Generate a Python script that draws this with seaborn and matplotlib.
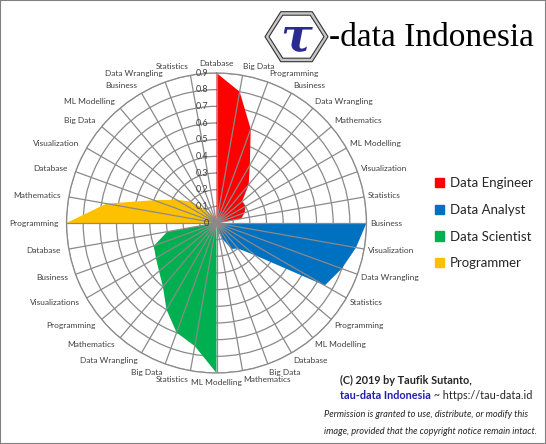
# radar chart of skills per data role (tau-data Indonesia style)
import matplotlib
matplotlib.use("Agg")
import matplotlib.pyplot as plt
import matplotlib.patches as mpatches
from matplotlib import font_manager
import seaborn as sns
import numpy as np
import pandas as pd

# categories, clockwise from the top, nine per role
engineer_cats = ["Database", "Big Data", "Programming", "Business", "Data Wrangling",
                 "Mathematics", "ML Modelling", "Visualization", "Statistics"]
analyst_cats = ["Business", "Visualization", "Data Wrangling", "Statistics", "Programming",
                "ML Modelling", "Database", "Big Data", "Mathematics"]
scientist_cats = ["ML Modelling", "Statistics", "Big Data", "Data Wrangling", "Mathematics",
                  "Programming", "Visualizations", "Business", "Database"]
programmer_cats = ["Programming", "Mathematics", "Database", "Visualization", "Big Data",
                   "ML Modelling", "Business", "Data Wrangling", "Statistics"]

# values
engineer_vals = [0.9, 0.8, 0.6, 0.4, 0.3, 0.2, 0.2, 0.18, 0.15]
analyst_vals = [0.9, 0.85, 0.8, 0.75, 0.3, 0.2, 0.18, 0.1, 0.05]
scientist_vals = [0.9, 0.75, 0.7, 0.6, 0.5, 0.45, 0.42, 0.4, 0.3]
programmer_vals = [0.9, 0.67, 0.4, 0.28, 0.2, 0.1, 0.05, 0.05, 0.03]

roles = ["Data Engineer", "Data Analyst", "Data Scientist", "Programmer"]
role_colors = ["#FF0000", "#0070C0", "#00B050", "#FFC000"]
r_ticks = [0, 0.1, 0.2, 0.3, 0.4, 0.5, 0.6, 0.7, 0.8, 0.9]

sns.set_theme(style="white")
names = {f.name for f in font_manager.fontManager.ttflist}
label_font = "Lato" if "Lato" in names else "DejaVu Sans"
plt.rcParams["font.family"] = [label_font, "DejaVu Sans"]

# one long table: every role has a value on every spoke (zero outside its own block)
all_cats = engineer_cats + analyst_cats + scientist_cats + programmer_cats
blocks = [engineer_vals, analyst_vals, scientist_vals, programmer_vals]
n = len(all_cats)
theta = np.arange(n) * 2 * np.pi / n
rows = []
for k, role in enumerate(roles):
    full = np.zeros(n)
    full[k * 9:(k + 1) * 9] = blocks[k]
    for i in range(n):
        rows.append((role, theta[i], all_cats[i], full[i]))
df = pd.DataFrame(rows, columns=["Role", "Theta", "Category", "Value"])
palette = dict(zip(roles, sns.color_palette(role_colors)))

W, H = 546, 444
fig = plt.figure(figsize=(W / 100, H / 100), dpi=100)
fig.patch.set_facecolor("white")

def fx(x):
    return x / W

def fy(y):
    return 1 - y / H

grid_col = "#8a8a8a"
cx, cy, rad = 216.5, 223, 150
ax = fig.add_axes([fx(cx - rad), fy(cy + rad), 2 * rad / W, 2 * rad / H], projection="polar")
ax.set_theta_zero_location("N")
ax.set_theta_direction(-1)
ax.set_ylim(0, 0.9)
ax.set_axisbelow(True)
ax.set_yticks(r_ticks[1:])
ax.set_yticklabels([])
ax.set_xticks(theta)
ax.set_xticklabels([])
ax.tick_params(length=0)
ax.xaxis.grid(False)
ax.yaxis.grid(True, color=grid_col, lw=0.9)
ax.spines["polar"].set_color(grid_col)
ax.spines["polar"].set_linewidth(0.9)
ax.set_facecolor("white")

for role in roles:
    sub = df[df["Role"] == role]
    ax.fill(sub["Theta"], sub["Value"], color=palette[role], lw=0, zorder=2)

# spokes drawn over the fills
ax.vlines(theta, 0, 0.9, color=grid_col, lw=0.9, zorder=3)

for ang, lab in zip(theta, all_cats):
    s, c = np.sin(ang), np.cos(ang)
    ha = "left" if s > 0.05 else ("right" if s < -0.05 else "center")
    dx = 4 * s if s > 0 else 8 * s
    ax.annotate(lab, xy=(ang, 0.9), xytext=(dx, 9 * c), textcoords="offset pixels",
                ha=ha, va="center", fontsize=6, color="#404040", annotation_clip=False)

for r in r_ticks:
    ax.annotate(f"{r:g}", xy=(0, r), xytext=(-8, 0), textcoords="offset pixels",
                ha="right", va="center", fontsize=6.5, color="#404040", zorder=4)

# legend
handles = [mpatches.Patch(color=palette[r], label=r) for r in roles]
fig.legend(handles=handles, loc="upper left", bbox_to_anchor=(fx(435), fy(177)),
           frameon=False, fontsize=9.5, handlelength=0.7, handleheight=0.7,
           handletextpad=0.4, labelspacing=1.12, borderpad=0, borderaxespad=0)

# logo
def hexagon(x0, y0, hw, hh, **kw):
    pts = [(x0 - hw, y0), (x0 - hw / 2, y0 - hh), (x0 + hw / 2, y0 - hh),
           (x0 + hw, y0), (x0 + hw / 2, y0 + hh), (x0 - hw / 2, y0 + hh)]
    return mpatches.Polygon([(fx(a), fy(b)) for a, b in pts], closed=True,
                            transform=fig.transFigure, **kw)

fig.patches.append(hexagon(296.5, 36.7, 31.5, 25, facecolor="#c8c8c8", edgecolor="#333333", lw=0.8))
fig.patches.append(hexagon(296.5, 36.7, 27.5, 21.5, facecolor="white", edgecolor="#333333", lw=0.8))
fig.text(fx(296.5), fy(38), "\u03c4", fontsize=34, family="DejaVu Serif", style="italic",
         fontweight="bold", color="#2b2b8f", ha="center", va="center")
fig.text(fx(329), fy(46), "-data Indonesia", fontsize=24, family="Liberation Serif",
         color="black", ha="left", va="baseline")

# copyright block
fig.text(fx(340), fy(380), "(C) 2019 by Taufik Sutanto,", fontsize=7.8, fontweight="bold",
         ha="left", va="center")
t1 = fig.text(fx(340), fy(395), "tau-data Indonesia", fontsize=7.8, fontweight="bold",
              color="#1f1fb0", ha="left", va="center")
fig.add_artist(plt.Annotation(" ~ https://tau-data.id", xy=(1, 0.5), xycoords=t1,
                              ha="left", va="center", fontsize=7.8))
fig.text(fx(324), fy(414), "Permission is granted to use, distribute, or modify this",
         fontsize=6.7, style="italic", ha="left", va="center")
fig.text(fx(324), fy(431.5), "image, provided that the copyright notice remain intact.",
         fontsize=6.7, style="italic", ha="left", va="center")

# thin frame around the picture
fig.patches.append(mpatches.Rectangle((0, 0), 1, 1, transform=fig.transFigure, fill=False,
                                      edgecolor="#808080", lw=1.5))

fig.savefig("out.png", dpi=100)
